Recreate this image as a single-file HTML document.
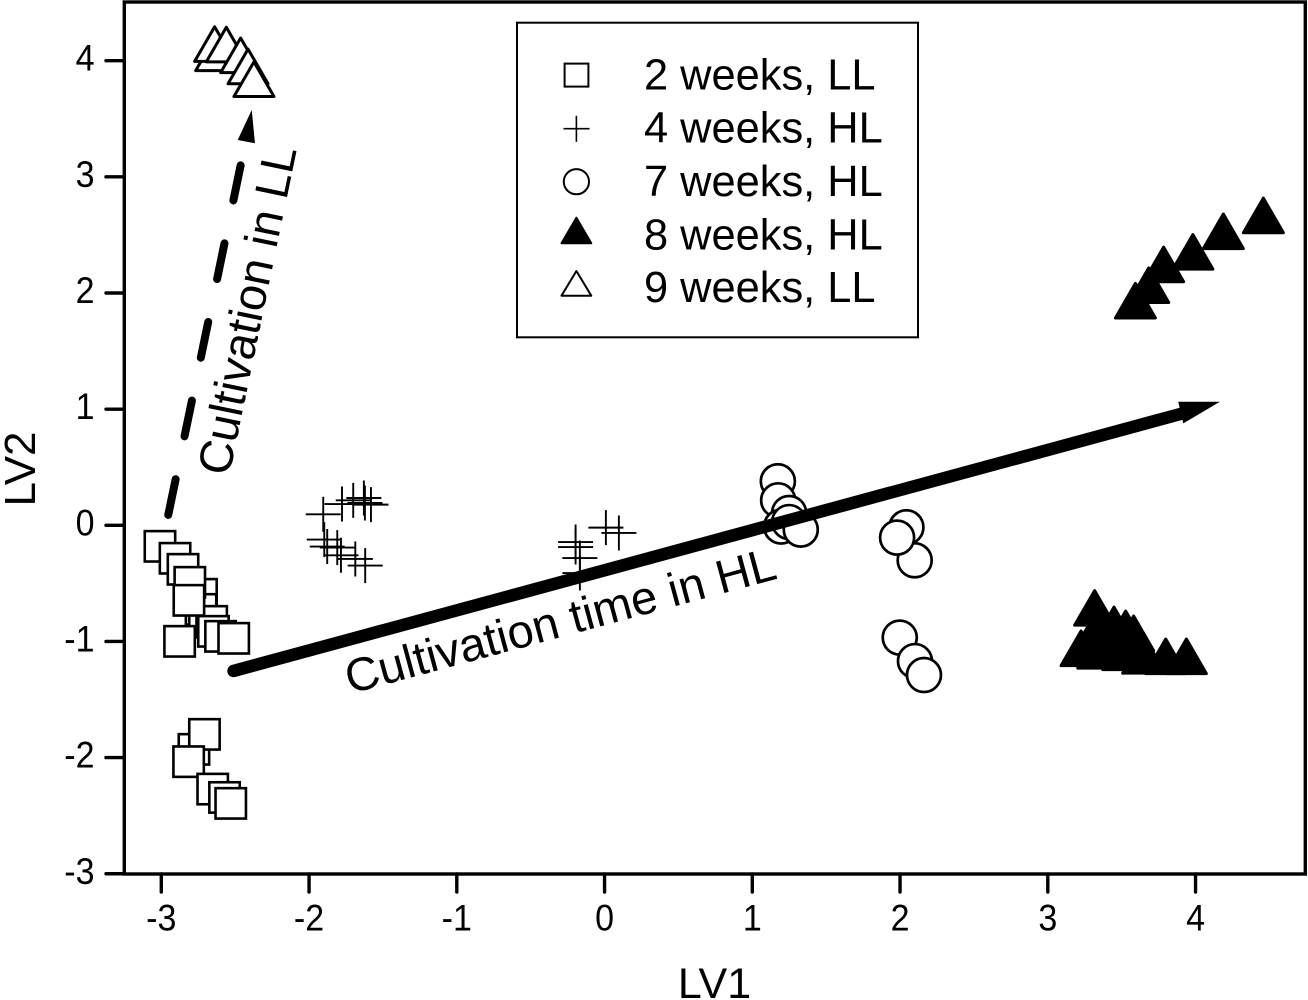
<!DOCTYPE html>
<html lang="en">
<head>
<meta charset="utf-8">
<title>LV1 vs LV2 score plot</title>
<style>
html,body{margin:0;padding:0;background:#fff;}
svg{display:block;font-family:"Liberation Sans",Arial,sans-serif;}
</style>
</head>
<body>
<svg id="chart" xmlns="http://www.w3.org/2000/svg" width="1308" height="1000" viewBox="0 0 1308 1000">
  <rect x="0" y="0" width="1308" height="1000" fill="#fff"/>
  <g id="marks"></g>
  <g id="arrows"></g>
  <text transform="translate(350,694) rotate(-15.1)" font-size="47" fill="#000">Cultivation time in HL</text>
  <text transform="translate(229,477) rotate(-78.3)" font-size="47" fill="#000">Cultivation in LL</text>
  <rect x="124.3" y="2" width="1181" height="872" fill="none" stroke="#000" stroke-width="3.4"/>
  <g id="axes"></g>
  <text x="714.5" y="998" font-size="43" text-anchor="middle" fill="#000">LV1</text>
  <text transform="translate(35,469) rotate(-90)" font-size="44" text-anchor="middle" fill="#000">LV2</text>
  <g>
    <rect x="517" y="22.7" width="401" height="314.6" fill="#fff" stroke="#000" stroke-width="2"/>
    <rect x="564.6" y="63.6" width="23.8" height="23" fill="#fff" stroke="#000" stroke-width="2"/>
    <path d="M563.5 128.7H589.5M576.4 115.7V141.7" fill="none" stroke="#000" stroke-width="1.6"/>
    <circle cx="576.4" cy="181.7" r="12.6" fill="#fff" stroke="#000" stroke-width="2"/>
    <path d="M576.4 217.7L591.3 243.3H561.5Z" fill="#000" stroke="#000" stroke-width="2" stroke-linejoin="round"/>
    <path d="M576.4 271L591.3 295.7H561.5Z" fill="#fff" stroke="#000" stroke-width="2" stroke-linejoin="round"/>
    <text x="644" y="89.3" font-size="43.4" fill="#000">2 weeks, LL</text>
    <text x="644" y="142.7" font-size="43.4" fill="#000">4 weeks, HL</text>
    <text x="644" y="196" font-size="43.4" fill="#000">7 weeks, HL</text>
    <text x="644" y="249.3" font-size="43.4" fill="#000">8 weeks, HL</text>
    <text x="644" y="302" font-size="43.4" fill="#000">9 weeks, LL</text>
  </g>
</svg>
<script>
const xTicks = [-3, -2, -1, 0, 1, 2, 3, 4];
const yTicks = [-3, -2, -1, 0, 1, 2, 3, 4];

const squaresX = [-2.728, -2.731, -2.708, -2.659, -2.647, -2.599, -3.009, -2.907, -2.853, -2.807, -2.813, -2.876, -2.510, -2.779, -2.708, -2.815, -2.652, -2.572, -2.530];
const squaresY = [-0.594, -0.724, -0.835, -0.827, -0.913, -0.956, -0.181, -0.284, -0.379, -0.491, -0.646, -0.999, -0.973, -1.929, -1.800, -2.035, -2.271, -2.343, -2.394];

const plusX = [-1.904, -1.777, -1.701, -1.629, -1.622, -1.581, -1.897, -1.877, -1.809, -1.784, -1.687, -1.620, -0.196, -0.196, -0.167, -0.167, 0.009, 0.097];
const plusY = [0.095, 0.183, 0.215, 0.235, 0.192, 0.178, -0.123, -0.183, -0.192, -0.258, -0.290, -0.347, -0.144, -0.187, -0.282, -0.411, -0.020, -0.066];

const circlesX = [1.173, 1.175, 1.249, 1.195, 1.249, 1.328, 2.043, 2.099, 1.980, 1.998, 2.101, 2.162];
const circlesY = [0.379, 0.215, 0.106, -0.011, 0.028, -0.037, -0.017, -0.301, -0.106, -0.967, -1.169, -1.289];

const filledX = [4.459, 4.188, 3.982, 3.784, 3.683, 3.593, 3.317, 3.448, 3.527, 3.581, 3.353, 3.286, 3.401, 3.455, 3.617, 3.798, 3.938, 3.225, 3.338, 3.507, 3.642];
const filledY = [2.668, 2.531, 2.354, 2.246, 2.067, 1.934, -0.711, -0.853, -0.887, -0.930, -0.932, -0.988, -0.988, -1.030, -1.030, -1.128, -1.128, -1.059, -1.081, -1.094, -1.124];

const openX = [-2.632, -2.639, -2.560, -2.463, -2.413, -2.373];
const openY = [4.063, 4.143, 4.139, 4.046, 3.951, 3.841];

const hlArrowShaft = [[-2.511, -1.254], [3.922, 0.967]];
const hlArrowHead = [[4.165, 1.064], [3.883, 1.064], [3.917, 0.878]];
const llArrowShaft = [[-2.953, 0.089], [-2.463, 3.099]];
const llArrowHead = [[-2.388, 3.576], [-2.483, 3.317], [-2.366, 3.289]];

const NS = 'http://www.w3.org/2000/svg';
function sx(v) { return 604.55 + 147.75 * v; }
function sy(v) { return 525.3 - 116.15 * v; }
function make(tag, parent, props) {
  const el = document.createElementNS(NS, tag);
  for (const k in props) el.setAttribute(k, props[k]);
  parent.appendChild(el);
  return el;
}
function trianglePath(cx, cy) {
  const w = 20, h = 17.3;
  return 'M' + cx + ' ' + (cy - h) + 'L' + (cx + w) + ' ' + (cy + h) + 'L' + (cx - w) + ' ' + (cy + h) + 'Z';
}
const marks = document.getElementById('marks');
const axes = document.getElementById('axes');
const arrows = document.getElementById('arrows');

const gSquares = make('g', marks, {});


squaresX.forEach(function (v, i) {
  const el = make('rect', gSquares, { x: sx(v) - 15.2, y: sy(squaresY[i]) - 15.2, width: 30.4, height: 30.4, fill: '#fff', stroke: '#000', 'stroke-width': 2.6 });
  
  
});

const gPlus = make('g', marks, {});


plusX.forEach(function (v, i) {
  const cx = sx(v), cy = sy(plusY[i]);
  const el = make('path', gPlus, { d: 'M' + (cx - 17.5) + ' ' + cy + 'H' + (cx + 17.5) + 'M' + cx + ' ' + (cy - 17.5) + 'V' + (cy + 17.5), fill: 'none', stroke: '#000', 'stroke-width': 1.9 });
  
  
});

const gCircles = make('g', marks, {});


circlesX.forEach(function (v, i) {
  const el = make('circle', gCircles, { cx: sx(v), cy: sy(circlesY[i]), r: 17, fill: '#fff', stroke: '#000', 'stroke-width': 2.7 });
  
  
});

const gFilled = make('g', marks, {});


filledX.forEach(function (v, i) {
  const el = make('path', gFilled, { d: trianglePath(sx(v), sy(filledY[i])), fill: '#000', stroke: '#000', 'stroke-width': 3, 'stroke-linejoin': 'round' });
  
  
});

const gOpen = make('g', marks, {});


openX.forEach(function (v, i) {
  const el = make('path', gOpen, { d: trianglePath(sx(v), sy(openY[i])), fill: '#fff', stroke: '#000', 'stroke-width': 3, 'stroke-linejoin': 'round' });
  
  
});

function polyPoints(list) {
  return list.map(function (p) { return sx(p[0]) + ',' + sy(p[1]); }).join(' ');
}
const hlShaft = make('line', arrows, { x1: sx(hlArrowShaft[0][0]), y1: sy(hlArrowShaft[0][1]), x2: sx(hlArrowShaft[1][0]), y2: sy(hlArrowShaft[1][1]), stroke: '#000', 'stroke-width': 12.5, 'stroke-linecap': 'round' });


const hlHead = make('polygon', arrows, { points: polyPoints(hlArrowHead), fill: '#000' });


const llShaft = make('line', arrows, { x1: sx(llArrowShaft[0][0]), y1: sy(llArrowShaft[0][1]), x2: sx(llArrowShaft[1][0]), y2: sy(llArrowShaft[1][1]), stroke: '#000', 'stroke-width': 8, 'stroke-linecap': 'round', 'stroke-dasharray': '36.5 43.8' });


const llHead = make('polygon', arrows, { points: polyPoints(llArrowHead), fill: '#000' });



xTicks.forEach(function (v) {
  const t = make('line', axes, { x1: sx(v), y1: 874, x2: sx(v), y2: 892, stroke: '#000', 'stroke-width': 3.4, 'stroke-linecap': 'round' });
  
  
  const l = make('text', axes, { transform: 'translate(' + sx(v) + ',930.7) scale(1,1.08)', 'font-size': 34, 'text-anchor': 'middle', fill: '#000' });
  l.textContent = String(v);
  
  
});
yTicks.forEach(function (v) {
  const t = make('line', axes, { x1: 124, y1: sy(v), x2: 106, y2: sy(v), stroke: '#000', 'stroke-width': 3.4, 'stroke-linecap': 'round' });
  
  
  const l = make('text', axes, { transform: 'translate(94.5,' + (sy(v) + 10) + ') scale(1,1.08)', 'font-size': 34, 'text-anchor': 'end', fill: '#000' });
  l.textContent = String(v);
  
  
});
</script>
</body>
</html>
